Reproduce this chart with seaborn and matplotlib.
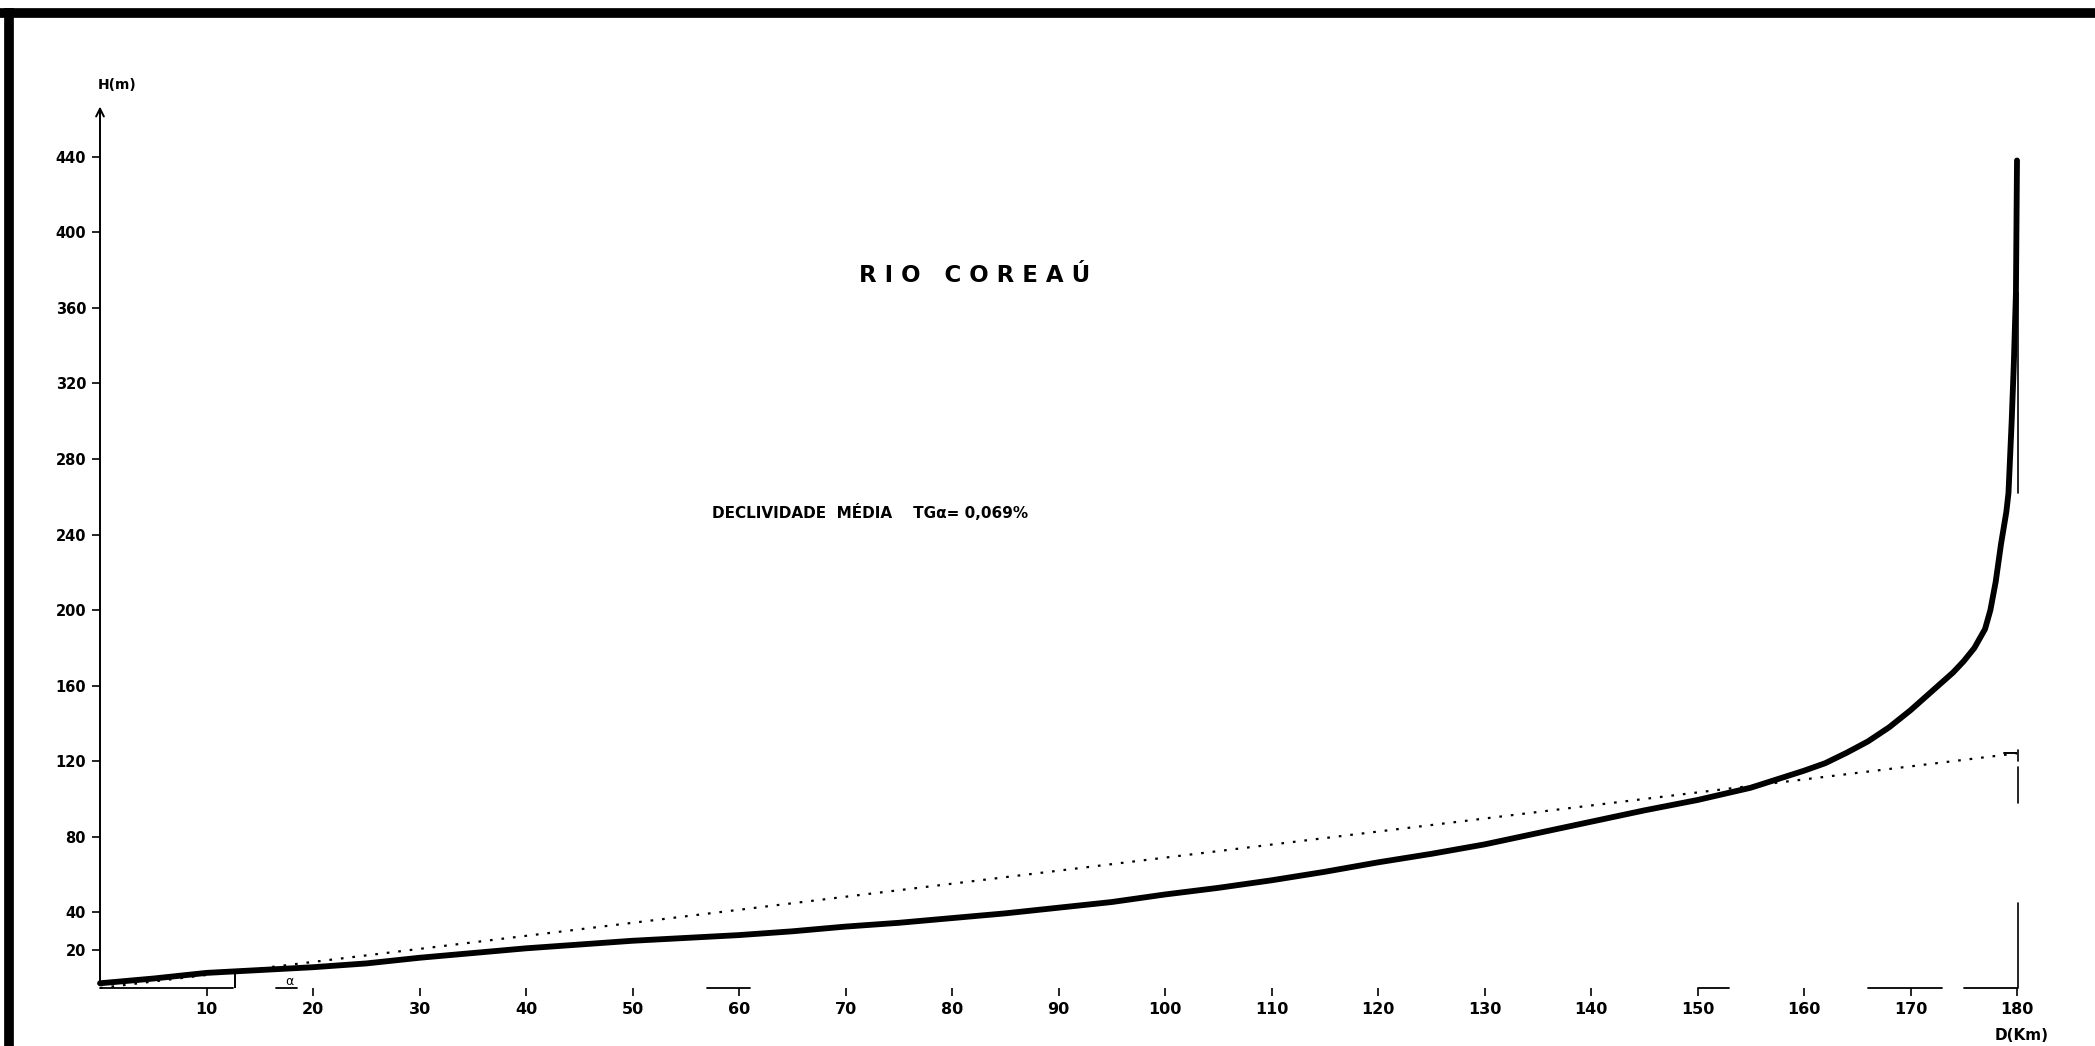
import pandas as pd
import seaborn as sns
import matplotlib.pyplot as plt
from matplotlib.lines import Line2D

# Longitudinal profile of the river (distance from mouth in km, elevation in m)
dist_km = [0, 5, 10, 15, 20, 25, 30, 35, 40, 45, 50, 55, 60, 65, 70, 75, 80, 85,
           90, 95, 100, 105, 110, 115, 120, 125, 130, 135, 140, 145, 150, 155,
           160, 162, 164, 166, 168, 170, 172, 174, 175, 176, 177, 177.5, 178,
           178.5, 179, 179.2, 179.5, 179.7, 179.9, 180]
elev_m = [2.5, 5, 8, 9.5, 11, 13, 16, 18.5, 21, 23, 25, 26.5, 28, 30, 32.5, 34.5,
          37, 39.5, 42.5, 45.5, 49.5, 53, 57, 61.5, 66.5, 71, 76, 82, 88, 94, 99.5,
          106, 115, 119, 124.5, 130.5, 138, 147, 157, 167, 173, 180, 190, 200,
          215, 235, 252, 262, 300, 330, 368, 438]

# mean slope line (TG alpha = 0,069 %)
slope_km = [0, 180]
slope_m = [0, 124.2]

x_ticks = [10, 20, 30, 40, 50, 60, 70, 80, 90, 100, 110, 120, 130, 140, 150, 160, 170, 180]
y_ticks = [20, 40, 80, 120, 160, 200, 240, 280, 320, 360, 400, 440]

profile = pd.DataFrame({"D": dist_km, "H": elev_m})
slope = pd.DataFrame({"D": slope_km, "H": slope_m})

sns.set_style("white")
plt.rcParams['font.family'] = ['DejaVu Sans']
plt.rcParams['text.color'] = 'black'
plt.rcParams['xtick.color'] = 'black'
plt.rcParams['ytick.color'] = 'black'

W, H = 2095, 1046
fig = plt.figure(figsize=(W / 100, H / 100), dpi=100)
ax = fig.add_axes([100 / W, 58 / H, 1917 / W, 888 / H])

sns.lineplot(data=slope, x="D", y="H", ax=ax, color="black", linewidth=1.6,
             linestyle=(0, (1.2, 4)), estimator=None)
sns.lineplot(data=profile, x="D", y="H", ax=ax, color="black", linewidth=4.2,
             sort=False, estimator=None)
for ln in ax.lines:
    ln.set_clip_on(False)
    ln.set_solid_joinstyle("round")

ax.set_xlim(0, 180)
ax.set_ylim(0, 470)
for s in ax.spines.values():
    s.set_visible(False)

# vertical axis with arrow
ax.annotate("", xy=(0, 468), xytext=(0, 0),
            arrowprops=dict(arrowstyle="->", lw=1.4, color="black", mutation_scale=14))

# broken bits of the horizontal axis and the end line at 180 km
for a, b in [(0, 12.5), (16.5, 18.5), (57, 61), (150, 153), (166, 173), (175, 180)]:
    ax.plot([a, b], [0, 0], color="black", lw=1.3, clip_on=False)
for a, b in [(0, 45), (98, 117), (120, 126), (262, 368)]:
    ax.plot([180.1, 180.1], [a, b], color="black", lw=1.2, clip_on=False)
ax.plot([178.8, 180.1], [124.5, 124.5], color="black", lw=1.4)
ax.plot([12.7, 12.7], [0, 8], color="black", lw=1.4)
ax.text(17.8, 3.5, "α", fontsize=9, ha="center", va="center")

ax.set_xticks(x_ticks)
ax.set_xticklabels([str(v) for v in x_ticks])
ax.set_yticks(y_ticks)
ax.set_yticklabels([str(v) for v in y_ticks])
ax.tick_params(axis="x", direction="out", length=6, width=1.2, pad=4,
               labelsize=11.5, bottom=True, colors="black")
ax.tick_params(axis="y", direction="out", length=6, width=1.2, pad=4,
               labelsize=10.5, left=True, colors="black")
for lab in ax.get_yticklabels() + ax.get_xticklabels():
    lab.set_fontweight("bold")
ax.set_xlabel("")
ax.set_ylabel("")

fig.text(117 / W, 1 - 85 / H, "H(m)", fontsize=10, fontweight="bold",
         ha="center", va="center")
fig.text(2022 / W, 1 - 1036 / H, "D(Km)", fontsize=11, fontweight="bold",
         ha="center", va="center")
fig.text(975 / W, 1 - 275 / H, "R I O   C O R E A Ú", fontsize=16.5,
         fontweight="bold", ha="center", va="center")
fig.text(712 / W, 1 - 518 / H, "DECLIVIDADE  MÉDIA    TGα= 0,069%", fontsize=11,
         fontweight="bold", ha="left", va="baseline")

# thick frame on top and left
fig.add_artist(Line2D([0, 1], [1 - 13 / H, 1 - 13 / H], color="black", lw=7,
                      solid_capstyle="butt", transform=fig.transFigure))
fig.add_artist(Line2D([9 / W, 9 / W], [0, 1 - 8 / H], color="black", lw=7,
                      solid_capstyle="butt", transform=fig.transFigure))

fig.savefig("out.png", dpi=100)
